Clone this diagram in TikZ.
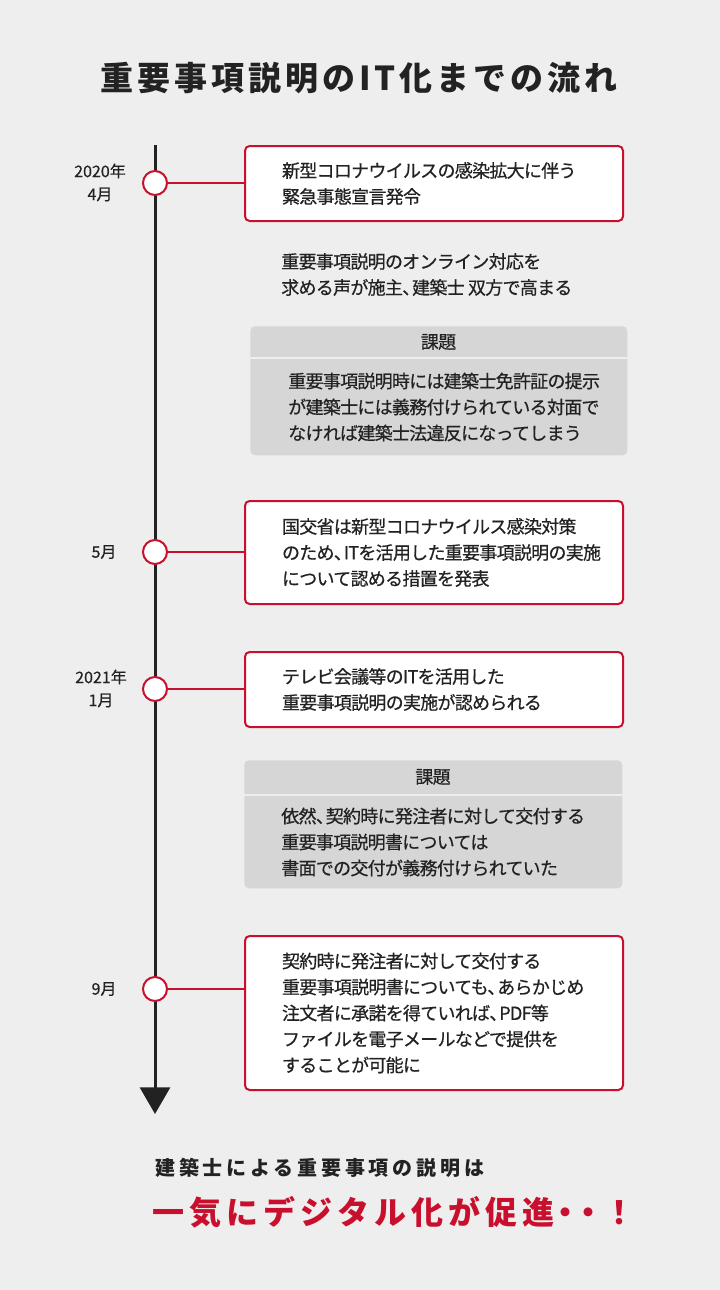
\documentclass[tikz,border=0pt]{standalone}
\usepackage{fontspec}
\setmainfont{Noto Sans CJK JP}
\newfontfamily\titlefont[LetterSpace=12]{Noto Sans CJK JP}
\newfontfamily\leadfont[LetterSpace=19]{Noto Sans CJK JP}
\newfontfamily\punchfont[LetterSpace=16]{Noto Sans CJK JP}
\newfontfamily\bodyfont[LetterSpace=-4,FakeBold=0.6]{Noto Sans CJK JP}
\newfontfamily\datefont[FakeBold=0.5]{Noto Sans CJK JP}
\usetikzlibrary{arrows.meta}
\definecolor{bgcol}{HTML}{EEEEEE}
\definecolor{accent}{HTML}{C8102E}
\definecolor{graycol}{HTML}{D6D6D6}
\definecolor{ink}{HTML}{222222}
\newcommand\bodytext{\bodyfont\fontsize{13.5}{19.5}\selectfont}
\newcommand\datetext{\datefont\fontsize{12}{17.25}\selectfont}
\newcommand\tou{、\kern-0.45em}
\tikzset{
  redbox/.style={draw=accent, line width=1.5pt, fill=white, rounded corners=3.5pt,
    anchor=west, minimum width=283.5pt, text width=228pt, inner xsep=27.75pt,
    inner ysep=0pt, align=left, font=\bodytext, text=ink},
  graybox/.style={fill=graycol, rounded corners=3.5pt, anchor=north west, inner sep=0pt},
  bodyblock/.style={inner sep=0pt, align=left, anchor=west, font=\bodytext, text=ink},
  headtext/.style={inner sep=0pt, font=\bodytext, text=ink},
  datelabel/.style={inner sep=0pt, align=center, font=\datetext, text=ink},
  dot/.style={circle, draw=accent, fill=white, line width=1.5pt, minimum size=18pt, inner sep=0pt},
  conn/.style={draw=accent, line width=1.5pt},
  axisline/.style={draw=ink, line width=2.25pt, -{Triangle[width=22.5pt,length=20pt]}},
  sepline/.style={draw=bgcol, line width=1.5pt}
}
\begin{document}
\begin{tikzpicture}[x=0.75pt,y=-0.75pt]
\fill[bgcol] (0,0) rectangle (720,1290);
\useasboundingbox (0,0) rectangle (720,1290);

% title
\node[inner sep=0pt, text=ink, font=\titlefont\bfseries\fontsize{24.75}{30}\selectfont] (title) at (359,78) {重要事項説明のIT\kern3pt 化までの流れ};

% timeline
\coordinate (tltop) at (155,145);
\coordinate (tlend) at (155,1114);
\draw[axisline] (tltop) -- (tlend);

% boxes
\node[redbox, minimum height=56.25pt] (b1) at (244,183.5) {新型コロナウイルスの感染拡大に伴う\\緊急事態宣言発令};
\node[bodyblock] (t1) at (281,274.5) {重要事項説明のオンライン対応を\\求める声が施主\tou 建築士\ 双方で高まる};

\node[graybox, minimum width=282.75pt, minimum height=96.75pt] (g1) at (250,326) {};
\draw[sepline] (g1.west |- 0,358) -- (g1.east |- 0,358);
\node[headtext] (h1) at (438.5,342) {課題};
\node[bodyblock] (gt1) at (288,407) {重要事項説明時には建築士免許証の提示\\が建築士には義務付けられている対面で\\なければ建築士法違反になってしまう};

\node[redbox, minimum height=77.25pt] (b2) at (244,552.5) {国交省は新型コロナウイルス感染対策\\のため\tou ITを活用した重要事項説明の実施\\について認める措置を発表};

\node[redbox, minimum height=56.25pt] (b3) at (244,689.5) {テレビ会議等のITを活用した\\重要事項説明の実施が認められる};

\node[graybox, minimum width=283.5pt, minimum height=96pt] (g2) at (244,760) {};
\draw[sepline] (g2.west |- 0,795) -- (g2.east |- 0,795);
\node[headtext] (h2) at (433,777) {課題};
\node[bodyblock] (gt2) at (281,842) {依然\tou 契約時に発注者に対して交付する\\重要事項説明書については\\書面での交付が義務付けられていた};

\node[redbox, minimum height=115.5pt] (b4) at (244,1013) {契約時に発注者に対して交付する\\重要事項説明書についても\tou あらかじめ\\注文者に承諾を得ていれば\tou PDF等\\ファイルを電子メールなどで提供を\\することが可能に};

% dots and connectors
\node[dot] (d1) at (155,183) {};
\node[dot] (d2) at (155,552) {};
\node[dot] (d3) at (155,689) {};
\node[dot] (d4) at (155,989) {};
\draw[conn] (d1.east) -- (d1.east -| b1.west);
\draw[conn] (d2.east) -- (d2.east -| b2.west);
\draw[conn] (d3.east) -- (d3.east -| b3.west);
\draw[conn] (d4.east) -- (d4.east -| b4.west);

% dates
\node[datelabel] (l1) at (100,182.5) {2020年\\4月};
\node[datelabel] (l2) at (104,552) {5月};
\node[datelabel] (l3) at (101,688.5) {2021年\\1月};
\node[datelabel] (l4) at (104,989) {9月};

% conclusion
\node[inner sep=0pt, anchor=west, text=ink, font=\leadfont\bfseries\fontsize{15}{18}\selectfont] (c1) at (155,1168) {建築士による重要事項の説明は};
\node[inner sep=0pt, anchor=west, text=accent, font=\punchfont\bfseries\fontsize{24}{28}\selectfont] (c2) at (152,1212) {一気にデジタル化が促進\kern-4pt・\kern-6.4pt・\kern-1pt！};
\end{tikzpicture}
\end{document}
